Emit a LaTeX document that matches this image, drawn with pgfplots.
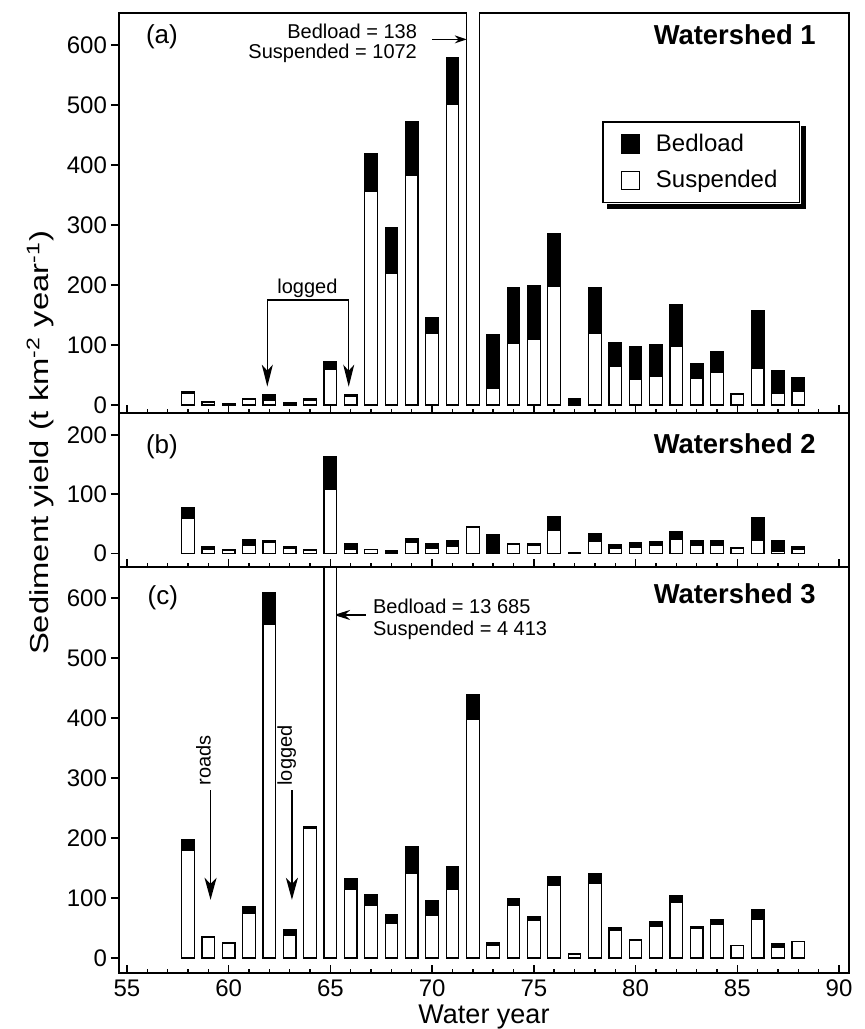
\documentclass[border=0pt]{standalone}
\usepackage{fontspec}
\setmainfont{Liberation Sans}
\usepackage{graphicx}
\usepackage{pgfplots}
\usepackage{pgfplotstable}
\pgfplotsset{compat=1.18}
\usetikzlibrary{arrows.meta}

% water year, suspended, bedload  (t km^-2 year^-1)
\pgfplotstableread{
year susp bed
58 20 2
59 5 1
60 0.5 2.5
61 9 1
62 8 9
63 1 3
64 8 3
65 59 13
66 14 3
67 356 63
68 219 77
69 382 90
70 119 27
71 501 78
72 1072 138
73 28 89
74 103 93
75 109 90
76 198 88
77 2 8
78 119 77
79 64 40
80 42 56
81 48 53
82 97 71
83 44 25
84 54 35
85 17 2
86 61 97
87 19 38
88 23 23
}\wsone

\pgfplotstableread{
year susp bed
58 59 19
59 6 5
60 5 2
61 14 10
62 18 3
63 8 4
64 5 2
65 108 55
66 7 10
67 6 1
68 2 3
69 18 7
70 8 8
71 12 10
72 44 1
73 2 30
74 15 1
75 14 2
76 38 24
77 2 0
78 21 13
79 8 6
80 10 9
81 13 7
82 24 13
83 13 8
84 14 7
85 8 2
86 22 39
87 3 18
88 7 4
}\wstwo

\pgfplotstableread{
year susp bed
58 179 18
59 34 1
60 25 0
61 74 11
62 556 54
63 38 9
64 216 3
65 4413 13685
66 114 18
67 87 19
68 57 16
69 141 44
70 71 25
71 115 38
72 398 42
73 21 5
74 88 11
75 63 6
76 121 15
77 6 1
78 125 15
79 46 4
80 30 1
81 53 8
82 92 12
83 49 4
84 56 8
85 21 0
86 64 17
87 18 6
88 27 1
}\wsthree

\pgfplotsset{
  panel/.style={
    width=365pt, scale only axis,
    xmin=54.61, xmax=90.49,
    ybar stacked, bar width=0.62,
    axis line style={line width=0.9pt},
    xtick={55,60,...,90}, minor x tick num=4,
    xtick pos=bottom, ytick pos=left,
    tick align=inside,
    major tick length=4pt, minor tick length=2pt,
    tick style={black, line width=0.7pt},
    ytick style={xshift=-4pt},
    yticklabel style={xshift=-2.5pt},
    ticklabel style={font=\fontsize{12}{14}\selectfont},
    /pgf/number format/assume math mode=true,
  },
  susp/.style={fill=white, draw=black, line width=0.6pt,
    legend image code/.code={\draw[##1] (0pt,-4.5pt) rectangle (9pt,4.5pt);}},
  bed/.style={fill=black, draw=black, line width=0.6pt,
    legend image code/.code={\draw[##1] (0pt,-4.5pt) rectangle (9pt,4.5pt);}},
}
\tikzset{
  lab/.style={font=\fontsize{13}{15}\selectfont},
  ws/.style={font=\bfseries\fontsize{13.7}{16}\selectfont, anchor=east},
  note/.style={font=\fontsize{10}{12}\selectfont},
  big arrow/.style={line width=0.7pt, -{Stealth[length=11pt, width=6pt, inset=3pt]}},
}

\begin{document}
\begin{tikzpicture}

% (c) Watershed 3
\begin{axis}[panel, at={(0,0)}, anchor=south west, height=203pt,
  ymin=-25, ymax=652, ytick={0,100,...,600},
  xlabel={Water year},
  xlabel style={font=\fontsize{13.5}{16}\selectfont, at={(axis description cs:0.5,0)}, anchor=north, yshift=-12.5pt}]
\addplot[susp] table[x=year, y=susp] {\wsthree};
\addplot[bed] table[x=year, y=bed] {\wsthree};
\node[lab, anchor=west] at (axis cs:55.67,600) {(c)};
\node[ws] at (axis cs:89.2,607) {Watershed 3};
\node[note, anchor=west] at (axis cs:66.75,586) {Bedload = 13 685};
\node[note, anchor=west] at (axis cs:66.75,547) {Suspended = 4 413};
\draw[line width=0.7pt, -{Stealth[length=8pt, width=5pt]}] (axis cs:66.75,572) -- (axis cs:65.18,572);
\node[note, rotate=90, anchor=base west, inner sep=0pt] at (axis cs:59.11,287) {roads};
\node[note, rotate=90, anchor=base west, inner sep=0pt] at (axis cs:63.11,287) {logged};
\draw[big arrow] (axis cs:59.11,280) -- (axis cs:59.11,97);
\draw[big arrow] (axis cs:63.11,280) -- (axis cs:63.11,97);
\end{axis}

% (b) Watershed 2
\begin{axis}[panel, at={(0,203pt)}, anchor=south west, height=77pt,
  ymin=-23, ymax=237, ytick={0,100,200}, xticklabels={}]
\addplot[susp] table[x=year, y=susp] {\wstwo};
\addplot[bed] table[x=year, y=bed] {\wstwo};
\node[lab, anchor=west] at (axis cs:55.59,180) {(b)};
\node[ws] at (axis cs:89.2,185) {Watershed 2};
\end{axis}

% (a) Watershed 1
\begin{axis}[panel, at={(0,280pt)}, anchor=south west, height=200pt,
  ymin=-13.3, ymax=653, ytick={0,100,...,600}, xticklabels={},
  reverse legend,
  legend style={name=leg, at={(0.6616,0.73)}, anchor=north west, draw=black, line width=0.8pt,
    font=\fontsize{12}{14}\selectfont, inner xsep=9pt, inner ysep=4pt,
    row sep=4pt, column sep=6pt, cells={anchor=west}}]
\addplot[susp] table[x=year, y=susp] {\wsone};
\addlegendentry{Suspended}
\addplot[bed] table[x=year, y=bed] {\wsone};
\addlegendentry{Bedload}
\node[lab, anchor=west] at (axis cs:55.59,613) {(a)};
\node[ws] at (axis cs:89.2,617) {Watershed 1};
\node[note, anchor=east] at (axis cs:69.6,623) {Bedload = 138};
\node[note, anchor=east] at (axis cs:69.6,585) {Suspended = 1072};
\draw[line width=0.7pt, -{Stealth[length=6pt, width=4pt]}] (axis cs:70.0,609) -- (axis cs:71.7,609);
\node[note] at (axis cs:63.87,195) {logged};
\draw[line width=0.7pt, {Stealth[length=11pt, width=5.5pt, inset=3pt]}-{Stealth[length=11pt, width=5.5pt, inset=3pt]}]
  (axis cs:61.9,30.5) -- (axis cs:61.9,175) -- (axis cs:65.9,175) -- (axis cs:65.9,30.5);
\end{axis}

% shadow of the legend box
\fill[black] ([xshift=0.4pt,yshift=-2.5pt]leg.north east) rectangle ([xshift=2.8pt,yshift=-2.8pt]leg.south east);
\fill[black] ([xshift=2.5pt,yshift=-0.4pt]leg.south west) rectangle ([xshift=2.8pt,yshift=-2.8pt]leg.south east);

\node[lab] at (-39.5pt,265pt) {\rotatebox{90}{\resizebox{212pt}{\height}{Sediment yield (t km\textsuperscript{-2} year\textsuperscript{-1})}}};

\pgfresetboundingbox
\useasboundingbox (-59.5pt,-28pt) rectangle (372.5pt,486.5pt);
\end{tikzpicture}
\end{document}
